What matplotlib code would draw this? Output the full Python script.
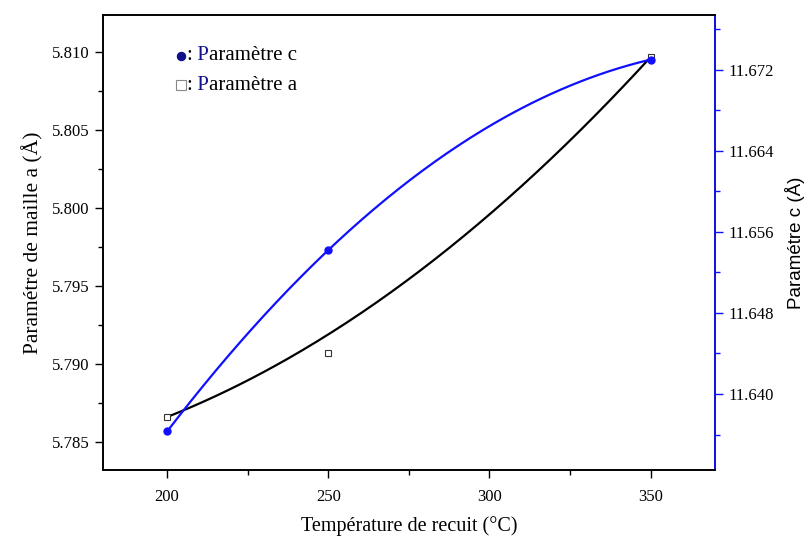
import numpy as np
import matplotlib.pyplot as plt
from matplotlib.ticker import MultipleLocator, FormatStrFormatter

# annealing temperature (°C)
temperature = [200, 250, 350]
# lattice parameter a (left axis) and c (right axis), in Å
param_a = [5.7866, 5.7907, 5.8097]
param_c = [11.6363, 11.6542, 11.6730]
# black trend curve of a, read at 200 / 250 / 350 °C
trend_a = [5.7866, 5.7919, 5.8097]

serif = 'Liberation Serif'
sans = 'Liberation Sans'
blue = '#1010ff'
navy = '#10108c'

fig = plt.figure(figsize=(8.08, 5.38), dpi=100)
ax = fig.add_axes([0.127, 0.1264, 0.758, 0.8457])
ax2 = ax.twinx()

# black curve
xs = np.linspace(temperature[0], temperature[-1], 200)
ka = np.polyfit(temperature, trend_a, 2)
ax.plot(xs, np.polyval(ka, xs), color='black', lw=1.6, zorder=2)
ax.plot(temperature, param_a, ls='none', marker='s', ms=4.5, mfc='white',
        mec='#333333', mew=0.8, zorder=3)

# blue curve : spline through the c points
kc = np.polyfit(temperature, param_c, 2)
ax2.plot(xs, np.polyval(kc, xs), color=blue, lw=1.6, zorder=2)
ax2.plot(temperature, param_c, ls='none', marker='o', ms=5, color=blue, zorder=3)

ax.set_xlim(180, 370)
ax.set_ylim(5.7832, 5.8124)
ax2.set_ylim(11.6325, 11.6774)

ax.xaxis.set_major_locator(MultipleLocator(50))
ax.xaxis.set_minor_locator(MultipleLocator(25))
ax.yaxis.set_major_locator(MultipleLocator(0.005))
ax.yaxis.set_minor_locator(MultipleLocator(0.0025))
ax.yaxis.set_major_formatter(FormatStrFormatter('%.3f'))
ax2.yaxis.set_major_locator(MultipleLocator(0.008))
ax2.yaxis.set_minor_locator(MultipleLocator(0.004))
ax2.yaxis.set_major_formatter(FormatStrFormatter('%.3f'))

for a in (ax, ax2):
    a.tick_params(which='major', direction='out', length=6, width=1.0)
    a.tick_params(which='minor', direction='out', length=3.5, width=1.0)
    for lab in a.get_xticklabels() + a.get_yticklabels():
        lab.set_fontfamily(serif)
        lab.set_fontsize(12)
    for s in a.spines.values():
        s.set_linewidth(1.2)

ax.tick_params(top=False, right=False)
ax2.tick_params(axis='y', which='both', colors=blue, labelcolor='black')
ax2.spines['right'].set_color(blue)
ax.tick_params(axis='x', pad=8)

ax.set_xlabel('Température de recuit (°C)', fontfamily=serif, fontsize=14.5, labelpad=8)
ax.set_ylabel('Paramétre de maille a (Å)', fontfamily=serif, fontsize=15.5, labelpad=6)
ax2.set_ylabel('Paramétre c (Å)', fontfamily=sans, fontsize=13.5, labelpad=8)

# hand made legend
rows = [(0.9106, 'o', navy, navy, 'aramètre c'), (0.846, 's', 'white', '#888888', 'aramètre a')]
for y, mk, fc, ec, rest in rows:
    ax.plot([0.1274], [y], transform=ax.transAxes, marker=mk, ls='none',
            ms=6 if mk == 'o' else 6.5, mfc=fc, mec=ec, mew=0.8, clip_on=False)
    t1 = ax.text(0.136, y, ':', transform=ax.transAxes, fontfamily=serif,
                 fontsize=15, va='center')
    t2 = ax.annotate(' P', xy=(1, 0), xycoords=t1, va='bottom',
                     fontfamily=serif, fontsize=15, color=navy)
    ax.annotate(rest, xy=(1, 0), xycoords=t2, va='bottom',
                fontfamily=serif, fontsize=15, color='black')

fig.savefig('out.png', dpi=100)
